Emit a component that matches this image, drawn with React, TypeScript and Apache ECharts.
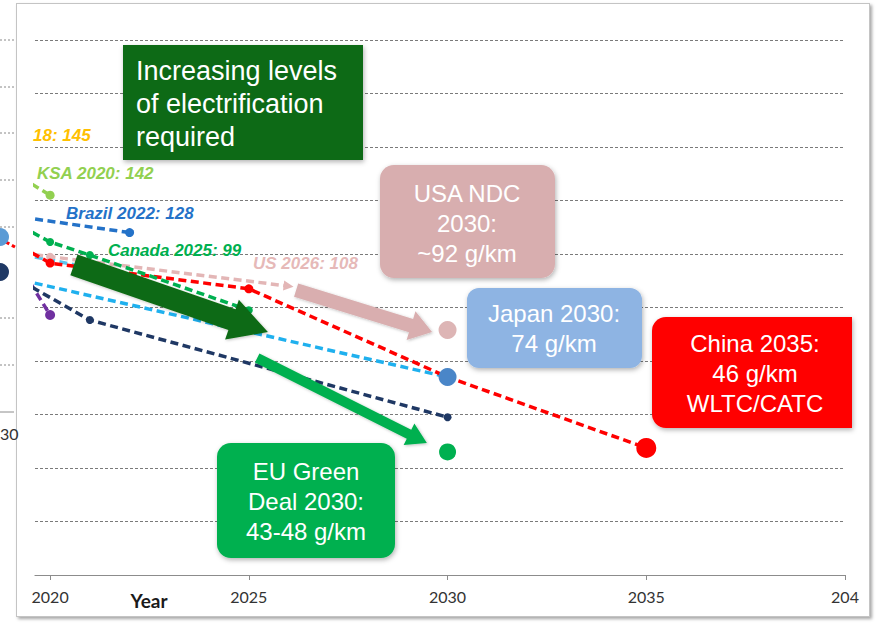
import React, { useEffect, useRef } from 'react';
import * as echarts from 'echarts';

// ---------- axis ----------
const xTickValues = [2020, 2025, 2030, 2035, 2040];
const xTickLabels = ['2020', '2025', '2030', '2035', '204'];
const xAxisName = 'Year';

// ---------- dashed trajectories (g/km) ----------
const ksaYears = [2019, 2020];
const ksaValues = [151, 142];
const brazilYears = [2019, 2022];
const brazilValues = [134.4, 128];
const canadaYears = [2019, 2020, 2021, 2025];
const canadaValues = [132.5, 124.5, 119.6, 99];
const usYears = [2019, 2020, 2026];
const usValues = [121, 119, 108];
const chinaYears = [2019, 2020, 2025, 2030, 2035];
const chinaValues = [125, 116.6, 107, 74, 47.5];
const japanYears = [2019, 2030];
const japanValues = [111.2, 74];
const cyanYears = [2019, 2020.6];
const cyanValues = [120.7, 116];
const navyYears = [2019, 2021, 2030];
const navyValues = [112.2, 95.3, 59];
const purpleYears = [2019, 2020];
const purpleValues = [121.2, 97.2];

// ---------- 2030/2035 targets ----------
const targetNames = ['USA NDC 2030', 'Japan 2030', 'EU Green Deal 2030', 'China 2035'];
const targetYears = [2030, 2030, 2030, 2035];
const targetValues = [91.6, 74, 46, 47.5];

// ---------- block arrows (data space) ----------
const arrowFromYears = [2020.6, 2026.19, 2025.21];
const arrowFromValues = [115.9, 106.5, 81.1];
const arrowToYears = [2025.48, 2029.61, 2029.48];
const arrowToValues = [90.8, 90.8, 49.3];

// ---------- texts ----------
const seriesLabels = ['18: 145', 'KSA 2020: 142', 'Brazil 2022: 128', 'Canada 2025: 99', 'US 2026: 108'];
const boxTexts = [
  'Increasing levels\nof electrification\nrequired',
  'USA NDC\n2030:\n~92 g/km',
  'Japan 2030:\n74 g/km',
  'China 2035:\n46 g/km\nWLTC/CATC',
  'EU Green\nDeal 2030:\n43-48 g/km',
];

// styles (kept apart from the data)
const lineStyles = [
  { name: 'Purple', years: purpleYears, values: purpleValues, color: '#7030A0', dots: [1], size: 10 },
  { name: 'Navy', years: navyYears, values: navyValues, color: '#1F3864', dots: [1, 2], size: 8 },
  { name: 'Japan', years: japanYears, values: japanValues, color: '#1FB0EE', dots: [], size: 7 },
  { name: 'Cyan', years: cyanYears, values: cyanValues, color: '#5BC4EE', dots: [], size: 7 },
  { name: 'US', years: usYears, values: usValues, color: '#E3B6B6', dots: [1], size: 8, arrowEnd: true },
  { name: 'China', years: chinaYears, values: chinaValues, color: '#FF0000', dots: [1, 2], size: 9 },
  { name: 'Canada', years: canadaYears, values: canadaValues, color: '#00B050', dots: [1, 2, 3], size: 8 },
  { name: 'Brazil', years: brazilYears, values: brazilValues, color: '#2472C8', dots: [1], size: 9 },
  { name: 'KSA', years: ksaYears, values: ksaValues, color: '#92D050', dots: [1], size: 9 },
];
const targetColors = ['#DDB5B5', '#4A86C8', '#00B050', '#FF0000'];
const targetSizes = [18, 18, 17, 20];
const arrowColors = ['#0B6A12', '#D9AEAF', '#00B050'];
const arrowBody = [22, 14, 10];
const arrowHeadW = [42, 30, 24];
const arrowHeadL = [38, 22, 20];

const labelPos = [
  { x: 33, y: 135, color: '#FFC000' },
  { x: 37, y: 173, color: '#92D050' },
  { x: 66, y: 213, color: '#2472C8' },
  { x: 108, y: 250, color: '#00B050' },
  { x: 253, y: 263, color: '#E6B9B8' },
];
const boxPos = [
  { x: 123, y: 45, w: 240, h: 115, r: 0, color: '#0E6B12', align: 'left', tx: 136, ty: 104, fs: 27, lh: 33 },
  { x: 380, y: 165, w: 175, h: 113, r: 14, color: '#D8AEAF', align: 'center', tx: 467, ty: 223, fs: 24, lh: 30 },
  { x: 467, y: 288, w: 175, h: 80, r: 12, color: '#8EB4E3', align: 'center', tx: 554, ty: 328, fs: 24, lh: 30 },
  { x: 652, y: 317, w: 200, h: 111, r: [14, 0, 0, 14], color: '#FF0000', align: 'center', tx: 755, ty: 373, fs: 24, lh: 30 },
  { x: 217, y: 443, w: 178, h: 115, r: 14, color: '#00B050', align: 'center', tx: 306, ty: 501, fs: 24, lh: 30 },
];

export default function App() {
  const ref = useRef<HTMLDivElement>(null);

  useEffect(() => {
    if (!ref.current) return;
    const chart = echarts.init(ref.current, null, { renderer: 'svg' });

    const lineSeries = lineStyles.map((s) => ({
      type: 'line',
      name: s.name,
      z: 3,
      clip: true,
      data: s.years.map((y, i) => {
        const isLast = i === s.years.length - 1;
        const item: any = { value: [y, s.values[i]] };
        if (s.arrowEnd && isLast) {
          item.symbol = 'triangle';
          item.symbolSize = [10, 10];
          item.symbolRotate = -97;
        } else if (s.dots.includes(i)) {
          item.symbol = 'circle';
          item.symbolSize = s.size;
        } else {
          item.symbol = 'none';
        }
        return item;
      }),
      showSymbol: true,
      lineStyle: { color: s.color, width: 3.5, type: [8, 4.5] },
      itemStyle: { color: s.color, opacity: 1 },
      emphasis: { disabled: true },
    }));

    const arrowSeries = {
      type: 'custom',
      coordinateSystem: 'cartesian2d',
      z: 6,
      data: arrowFromYears.map((x, i) => [x, arrowFromValues[i], arrowToYears[i], arrowToValues[i]]),
      encode: { x: [0, 2], y: [1, 3] },
      renderItem: (params: any, api: any) => {
        const i = params.dataIndex;
        const p0 = api.coord([api.value(0), api.value(1)]);
        const p1 = api.coord([api.value(2), api.value(3)]);
        const dx = p1[0] - p0[0];
        const dy = p1[1] - p0[1];
        const len = Math.sqrt(dx * dx + dy * dy);
        const ux = dx / len, uy = dy / len;
        const nx = -uy, ny = ux;
        const bw = arrowBody[i] / 2, hw = arrowHeadW[i] / 2, hl = arrowHeadL[i];
        const bx = p1[0] - ux * hl, by = p1[1] - uy * hl;
        const pts = [
          [p0[0] + nx * bw, p0[1] + ny * bw],
          [bx + nx * bw, by + ny * bw],
          [bx + nx * hw, by + ny * hw],
          [p1[0], p1[1]],
          [bx - nx * hw, by - ny * hw],
          [bx - nx * bw, by - ny * bw],
          [p0[0] - nx * bw, p0[1] - ny * bw],
        ];
        return {
          type: 'polygon',
          shape: { points: pts },
          style: { fill: arrowColors[i], shadowBlur: 3, shadowColor: 'rgba(0,0,0,0.25)', shadowOffsetX: 1, shadowOffsetY: 1 },
        };
      },
    };

    const targetSeries = {
      type: 'scatter',
      name: 'Targets',
      z: 7,
      data: targetYears.map((y, i) => ({
        name: targetNames[i],
        value: [y, targetValues[i]],
        symbolSize: targetSizes[i],
        itemStyle: { color: targetColors[i], opacity: 1 },
      })),
      itemStyle: { opacity: 1 },
      emphasis: { disabled: true },
    };

    const graphics: any[] = [];
    // fragment of the neighbouring chart on the far left
    [40, 87, 133, 180, 227, 318, 365].forEach((gy) =>
      graphics.push({ type: 'line', shape: { x1: 0, y1: gy, x2: 14, y2: gy }, style: { stroke: '#888', lineWidth: 1, lineDash: [2, 2] }, z: 1 })
    );
    graphics.push({ type: 'line', shape: { x1: 0, y1: 412, x2: 14, y2: 412 }, style: { stroke: '#8c8c8c', lineWidth: 1 }, z: 1 });
    graphics.push({ type: 'line', shape: { x1: 4, y1: 241, x2: 15, y2: 247 }, style: { stroke: '#FF0000', lineWidth: 3, lineDash: [6, 3] }, z: 1 });
    graphics.push({ type: 'circle', shape: { cx: 0, cy: 237, r: 9 }, style: { fill: '#5B9BD5' }, z: 1 });
    graphics.push({ type: 'circle', shape: { cx: 0, cy: 272, r: 9 }, style: { fill: '#1F3864' }, z: 1 });
    graphics.push({ type: 'text', style: { text: '30', x: 0, y: 433, fill: '#333', fontSize: 16, fontFamily: 'Lato', verticalAlign: 'middle' }, z: 1 });

    // axis name
    graphics.push({
      type: 'text',
      style: { text: xAxisName, x: 149, y: 600, fill: '#1a1a1a', fontSize: 19, fontWeight: 'bold', fontFamily: 'Lato', textAlign: 'center', verticalAlign: 'middle' },
      z: 10,
    });

    // italic series labels
    seriesLabels.forEach((t, i) =>
      graphics.push({
        type: 'text',
        style: {
          text: t, x: labelPos[i].x, y: labelPos[i].y, fill: labelPos[i].color,
          fontSize: 17, fontWeight: 'bold', fontStyle: 'italic', fontFamily: 'Liberation Sans',
          verticalAlign: 'middle',
        },
        z: 10,
      })
    );

    // call-out boxes
    boxTexts.forEach((t, i) => {
      const b = boxPos[i];
      graphics.push({
        type: 'rect',
        shape: { x: b.x, y: b.y, width: b.w, height: b.h, r: b.r },
        style: { fill: b.color, shadowBlur: 5, shadowColor: 'rgba(0,0,0,0.3)', shadowOffsetX: 1, shadowOffsetY: 2 },
        z: 20,
      });
      graphics.push({
        type: 'text',
        style: {
          text: t, x: b.tx, y: b.ty, fill: '#ffffff', fontSize: b.fs, lineHeight: b.lh,
          fontFamily: 'Liberation Sans', textAlign: b.align, verticalAlign: 'middle',
        },
        z: 21,
      });
    });

    chart.setOption({
      animation: false,
      backgroundColor: 'transparent',
      grid: { left: 35, right: 32, top: 40, bottom: 51, containLabel: false },
      xAxis: {
        type: 'value',
        min: 2019.62,
        max: 2040,
        axisLine: { show: true, onZero: false, lineStyle: { color: '#8c8c8c', width: 1.2 } },
        axisTick: { show: true, customValues: xTickValues, length: 5, lineStyle: { color: '#8c8c8c' } },
        axisLabel: {
          customValues: xTickValues,
          formatter: (v: number) => {
            const k = xTickValues.indexOf(Math.round(v));
            return k >= 0 ? xTickLabels[k] : '';
          },
          color: '#333333',
          fontSize: 16,
          fontFamily: 'Lato',
          margin: 13,
        },
        splitLine: { show: false },
      },
      yAxis: {
        type: 'value',
        min: 0,
        max: 200,
        interval: 20,
        axisLabel: { show: false },
        axisLine: { show: false },
        axisTick: { show: false },
        splitLine: { show: true, lineStyle: { color: '#7a7a7a', width: 1, type: [3, 2] } },
      },
      graphic: graphics,
      series: [...lineSeries, arrowSeries, targetSeries],
    });

    return () => chart.dispose();
  }, []);

  return (
    <div style={{ position: 'fixed', left: 0, top: 0, width: 877, height: 626, background: '#ffffff' }}>
      <div
        style={{
          position: 'absolute', left: 16, top: 3, width: 852, height: 612,
          border: '1px solid #c4c4c4', boxShadow: '2px 2px 3px rgba(0,0,0,0.35)', background: '#ffffff',
        }}
      />
      <div ref={ref} style={{ position: 'absolute', left: 0, top: 0, width: 877, height: 626 }} />
    </div>
  );
}
